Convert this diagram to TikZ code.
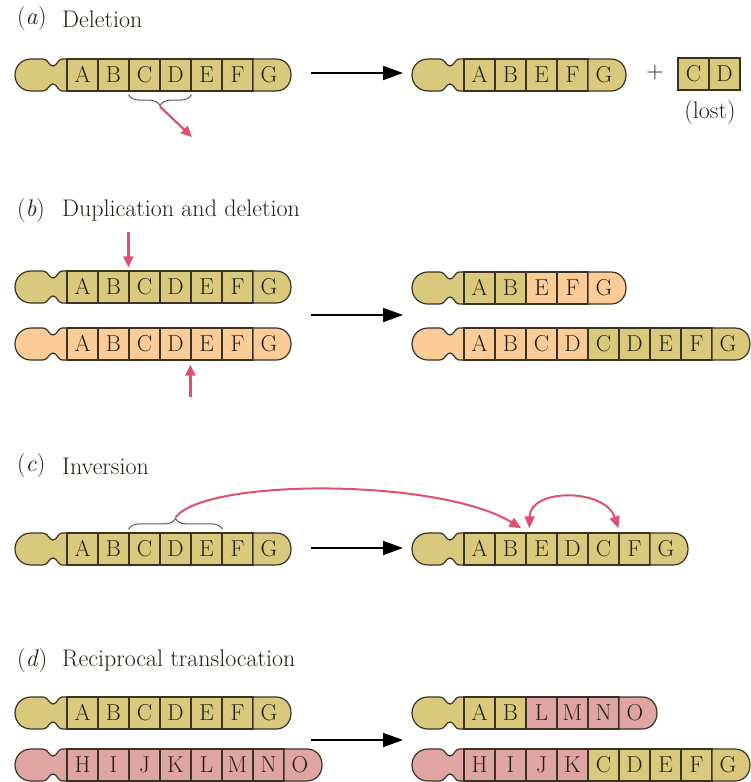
\documentclass[tikz,border=0pt]{standalone}
\usepackage{fontspec}
\usetikzlibrary{arrows.meta,decorations.pathreplacing,calc}

\definecolor{olv}{HTML}{D8C97C}
\definecolor{pch}{HTML}{FBCB98}
\definecolor{pnk}{HTML}{DFA5A2}
\definecolor{edge}{HTML}{3A3322}
\definecolor{cut}{HTML}{E04E70}
\definecolor{ink}{HTML}{231F12}

\newcommand\cellfont{\fontsize{23}{23}\selectfont}
\newcommand\titlefont{\fontsize{24}{26}\selectfont}

\tikzset{
  outline/.style={draw=edge, line width=1.2pt},
  cellbox/.style={outline, minimum width=31pt, minimum height=32pt, inner sep=0pt,
    text height=15pt, text depth=0pt, font=\cellfont, text=ink},
  celltext/.style={inner sep=0pt, text height=15pt, text depth=0pt, font=\cellfont, text=ink},
  title/.style={anchor=west, font=\titlefont, text=ink, inner sep=0pt},
  mainarrow/.style={draw=black, line width=1.8pt, -{Triangle[length=20pt,width=14pt]}},
  redarrow/.style={draw=cut, line width=2.2pt, -{Triangle[length=11pt,width=10pt]}},
  redcurve/.style={draw=cut, line width=2pt, -{Triangle[length=12pt,width=10pt]}},
  bracket/.style={draw=edge!80, line width=1pt, decorate, decoration={brace, amplitude=11pt}},
}

% #1 name prefix, #2 left x, #3 centre y, #4 colour of the head,
% #5 list letter/colour, #6 number of cells
\newcommand\chromo[6]{%
  \path[outline, fill=#4]
    (#2+52,#3-16) -- (#2+47,#3-16)
    .. controls (#2+43,#3-16) and (#2+42,#3-9) .. (#2+38,#3-9)
    .. controls (#2+34,#3-9) and (#2+33,#3-16) .. (#2+28,#3-16)
    -- (#2+16,#3-16)
    .. controls (#2+7,#3-16) and (#2,#3-9) .. (#2,#3)
    .. controls (#2,#3+9) and (#2+7,#3+16) .. (#2+16,#3+16)
    -- (#2+28,#3+16)
    .. controls (#2+33,#3+16) and (#2+34,#3+9) .. (#2+38,#3+9)
    .. controls (#2+42,#3+9) and (#2+43,#3+16) .. (#2+47,#3+16)
    -- (#2+52,#3+16);
  \foreach \L/\C [count=\i] in {#5} {
    \pgfmathsetmacro\cx{#2+52+(\i-1)*31}
    \ifnum\i=#6
      \path[outline, fill=\C] (\cx,#3-16) -- (\cx+23,#3-16)
        .. controls (\cx+32,#3-16) and (\cx+38,#3-9) .. (\cx+38,#3)
        .. controls (\cx+38,#3+9) and (\cx+32,#3+16) .. (\cx+23,#3+16)
        -- (\cx,#3+16) -- cycle;
      \node[celltext] (#1-\i) at (\cx+16,#3) {\L};
    \else
      \node[cellbox, fill=\C] (#1-\i) at (\cx+15.5,#3) {\L};
    \fi
  }%
}

\begin{document}
\begin{tikzpicture}[x=1pt, y=-1pt]
  \useasboundingbox (0,0) rectangle (751,782);

  % ---------- (a) deletion ----------
  \node[title] (ta) at (17,19) {(\textit{a})};
  \node[title] (tan) at (62,19) {Deletion};
  \chromo{aL}{15}{75}{olv}{A/olv,B/olv,C/olv,D/olv,E/olv,F/olv,G/olv}{7}
  \chromo{aR}{412}{75}{olv}{A/olv,B/olv,E/olv,F/olv,G/olv}{5}
  \node[font=\titlefont, text=ink] (plus) at (655,73) {+};
  \node[cellbox, fill=olv] (cd-1) at (693.5,74) {C};
  \node[cellbox, fill=olv] (cd-2) at (724.5,74) {D};
  \node[font=\titlefont, text=ink] (lost) at (710,113) {(lost)};
  \coordinate (aS) at (311,73);
  \coordinate (aE) at (403,73);
  \draw[mainarrow] (aS) -- (aE);
  \draw[bracket, decoration={mirror}] ([yshift=-3pt]aL-3.south west) -- ([yshift=-3pt]aL-4.south east);
  \coordinate (aTip) at ($(aL-3.south west)!0.5!(aL-4.south east)+(0,15)$);
  \coordinate (aOut) at (192,137);
  \draw[redarrow] (aTip) -- (aOut);

  % ---------- (b) duplication and deletion ----------
  \node[title] (tb) at (17,211) {(\textit{b})};
  \node[title] (tbn) at (62,211) {Duplication and deletion};
  \chromo{bL1}{15}{287}{olv}{A/olv,B/olv,C/olv,D/olv,E/olv,F/olv,G/olv}{7}
  \chromo{bL2}{15}{344}{pch}{A/pch,B/pch,C/pch,D/pch,E/pch,F/pch,G/pch}{7}
  \chromo{bR1}{412}{288}{olv}{A/olv,B/olv,E/pch,F/pch,G/pch}{5}
  \chromo{bR2}{412}{344}{pch}{A/pch,B/pch,C/pch,D/pch,C/olv,D/olv,E/olv,F/olv,G/olv}{9}
  \coordinate (bDown) at ($(bL1-3.north west)+(0,-38)$);
  \draw[redarrow] (bDown) -- ([yshift=3pt]bL1-3.north west);
  \coordinate (bUp) at ($(bL2-5.south west)+(0,36)$);
  \draw[redarrow] (bUp) -- ([yshift=-4pt]bL2-5.south west);
  \coordinate (bS) at (311,315);
  \coordinate (bE) at (403,315);
  \draw[mainarrow] (bS) -- (bE);

  % ---------- (c) inversion ----------
  \node[title] (tc) at (17,466) {(\textit{c})};
  \node[title] (tcn) at (62,466) {Inversion};
  \chromo{cL}{15}{549}{olv}{A/olv,B/olv,C/olv,D/olv,E/olv,F/olv,G/olv}{7}
  \chromo{cR}{412}{549}{olv}{A/olv,B/olv,E/olv,D/olv,C/olv,F/olv,G/olv}{7}
  \draw[bracket] ([yshift=3pt]cL-3.north west) -- ([yshift=3pt]cL-5.north east);
  \coordinate (cTip) at ($(cL-3.north west)!0.5!(cL-5.north east)+(0,-15)$);
  \draw[redcurve] (cTip) .. controls (205,478) and (440,478) .. ([xshift=-4pt,yshift=4pt]cR-3.north west);
  \draw[redcurve, {Triangle[length=12pt,width=10pt]}-{Triangle[length=12pt,width=10pt]}]
    ([xshift=4pt,yshift=4pt]cR-3.north west) .. controls (530,488) and (605,488) .. ([yshift=4pt]cR-6.north west);
  \coordinate (cS) at (311,548);
  \coordinate (cE) at (403,548);
  \draw[mainarrow] (cS) -- (cE);

  % ---------- (d) reciprocal translocation ----------
  \node[title] (td) at (17,661) {(\textit{d})};
  \node[title] (tdn) at (62,661) {Reciprocal translocation};
  \chromo{dL1}{15}{713}{olv}{A/olv,B/olv,C/olv,D/olv,E/olv,F/olv,G/olv}{7}
  \chromo{dL2}{15}{765}{pnk}{H/pnk,I/pnk,J/pnk,K/pnk,L/pnk,M/pnk,N/pnk,O/pnk}{8}
  \chromo{dR1}{412}{713}{olv}{A/olv,B/olv,L/pnk,M/pnk,N/pnk,O/pnk}{6}
  \chromo{dR2}{412}{765}{pnk}{H/pnk,I/pnk,J/pnk,K/pnk,C/olv,D/olv,E/olv,F/olv,G/olv}{9}
  \coordinate (dS) at (311,740);
  \coordinate (dE) at (403,740);
  \draw[mainarrow] (dS) -- (dE);
\end{tikzpicture}
\end{document}
